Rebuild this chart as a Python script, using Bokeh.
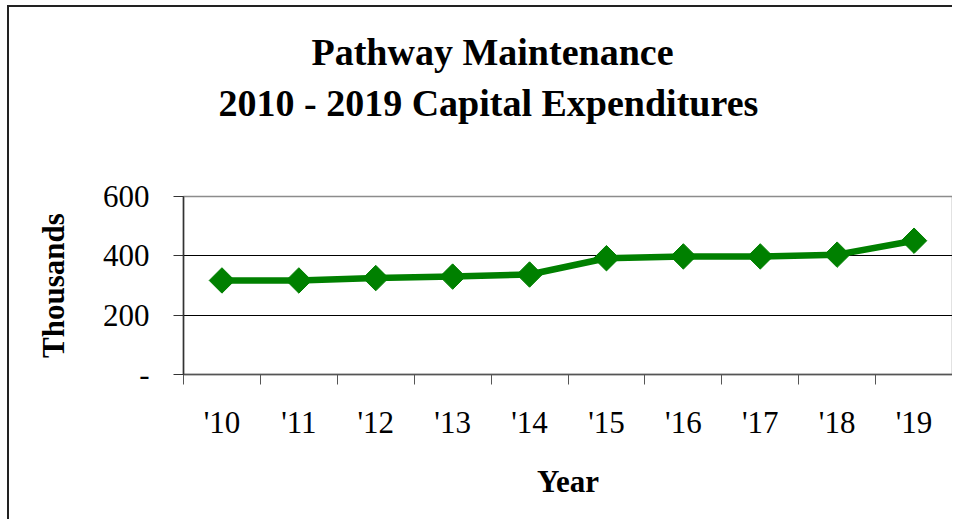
import numpy as np
from bokeh.plotting import figure
from bokeh.models import Range1d, FixedTicker, Title
from bokeh.embed import file_html
from bokeh.resources import INLINE

# ---- data ----
years = ["'10", "'11", "'12", "'13", "'14", "'15", "'16", "'17", "'18", "'19"]
thousands = [317, 317, 325, 330, 337, 392, 398, 398, 404, 451]
y_ticks = [0, 200, 400, 600]
y_tick_labels = ["-", "200", "400", "600"]
title_lines = ["Pathway Maintenance", "2010 - 2019 Capital Expenditures"]

x = np.arange(len(years)) + 0.5
GREEN = "#008000"
FONT = "Liberation Serif"

p = figure(width=945, height=514, output_backend="svg", toolbar_location=None,
           x_range=Range1d(0, len(years)), y_range=Range1d(0, 600),
           min_border_left=174, min_border_top=189, min_border_right=2, min_border_bottom=147)
p.styles = {"border-left": "2px solid #222222", "border-top": "2px solid #222222",
            "margin-left": "7px", "margin-top": "5px"}
p.background_fill_color = "white"
p.border_fill_color = "white"
p.outline_line_color = "#8c8c8c"
p.outline_line_width = 1.5

# x axis: labels at centres, ticks at category boundaries
p.xaxis.ticker = FixedTicker(ticks=list(x), minor_ticks=list(range(len(years) + 1)))
p.xaxis.major_label_overrides = {float(v): lab for v, lab in zip(x, years)}
p.xaxis.major_tick_out = 0
p.xaxis.major_tick_in = 0
p.xaxis.minor_tick_out = 10
p.xaxis.minor_tick_in = 0
p.xaxis.minor_tick_line_color = "#555555"
p.xaxis.axis_line_color = "#555555"
p.xaxis.axis_line_width = 1.5
p.xaxis.major_label_standoff = 20
p.xaxis.axis_label = "Year"
p.xaxis.axis_label_standoff = 21

p.yaxis.ticker = FixedTicker(ticks=y_ticks)
p.yaxis.major_label_overrides = {t: l for t, l in zip(y_ticks, y_tick_labels)}
p.yaxis.major_tick_out = 10
p.yaxis.major_tick_in = 0
p.yaxis.minor_tick_line_color = None
p.yaxis.major_tick_line_color = "#333333"
p.yaxis.axis_line_color = "#333333"
p.yaxis.axis_line_width = 1.5
p.yaxis.major_label_standoff = 24
p.yaxis.axis_label = "Thousands"
p.yaxis.axis_label_standoff = 29

for ax in (p.xaxis, p.yaxis):
    ax.major_label_text_font = FONT
    ax.major_label_text_font_size = "31px"
    ax.major_label_text_color = "black"
    ax.axis_label_text_font = FONT
    ax.axis_label_text_font_size = "31px"
    ax.axis_label_text_font_style = "bold"
    ax.axis_label_text_color = "black"

p.xgrid.visible = False
p.ygrid.ticker = FixedTicker(ticks=[200, 400])
p.ygrid.grid_line_color = "black"
p.ygrid.grid_line_width = 1

p.line(x, thousands, line_color=GREEN, line_width=6.5)
p.scatter(x, thousands, marker="square", angle=np.pi / 4, size=18,
          fill_color=GREEN, line_color=GREEN)

# title: spacer first (closest to the frame), then line 2, then line 1
for txt, off, so in [("\u00a0", 0, 27), (title_lines[1], 35, 4), (title_lines[0], 128, 10)]:
    p.add_layout(Title(text=txt, align="left", offset=off, standoff=so,
                       text_font=FONT, text_font_size="38px", text_font_style="bold",
                       text_color="black"), "above")

open("out.html", "w").write(file_html(p, INLINE))
